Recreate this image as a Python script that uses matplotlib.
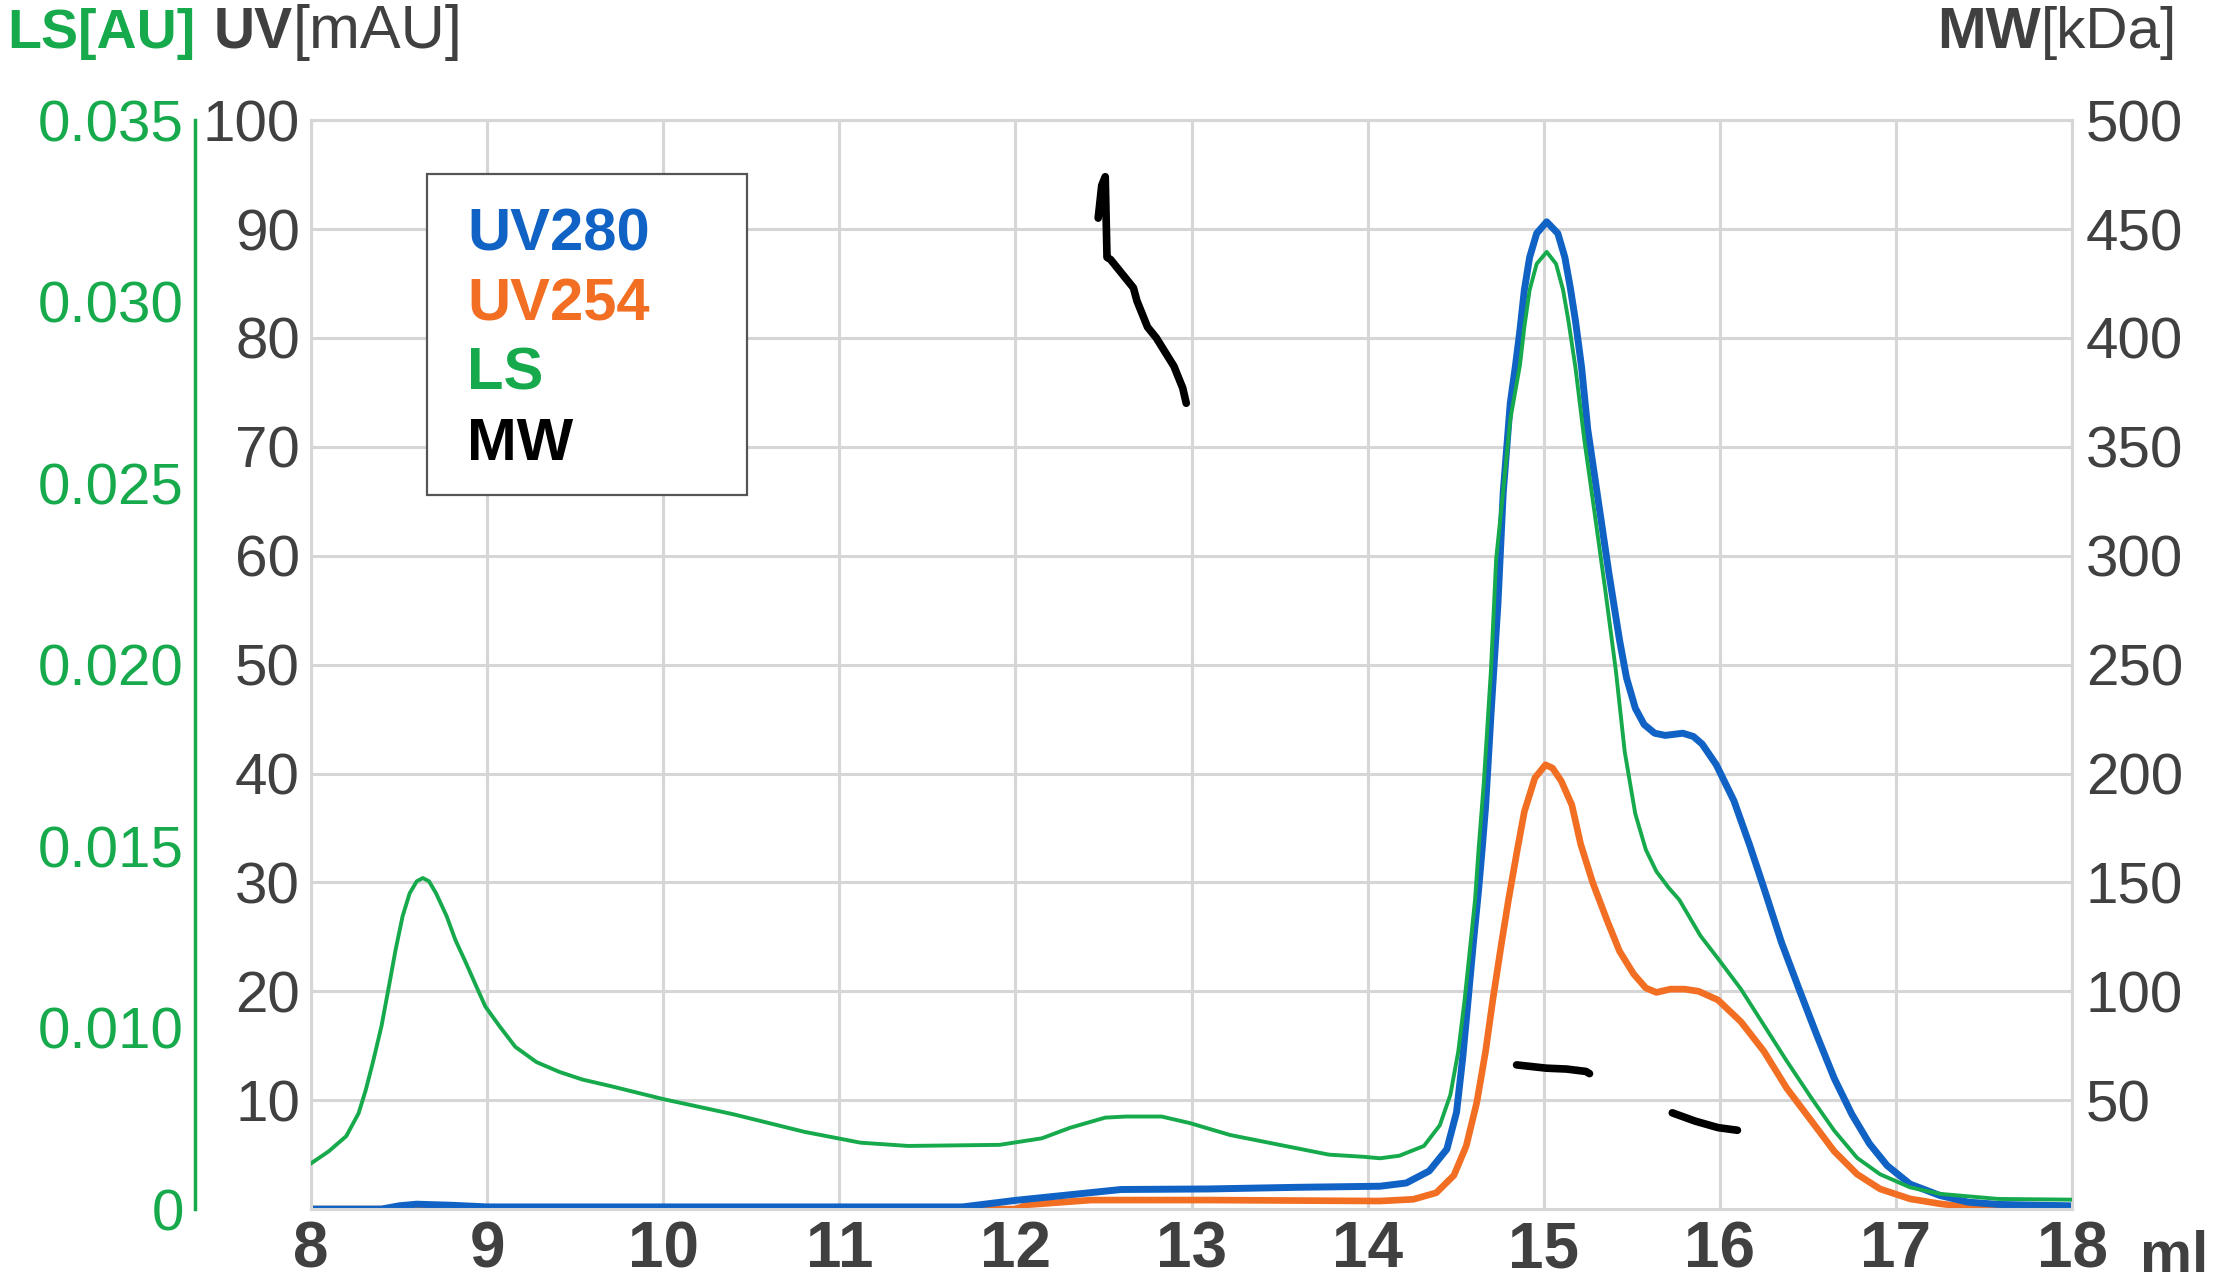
"""
SEC-MALS style chromatogram: UV280 / UV254 / LS traces with MW segments.
Writes out.png (about 2217 x 1286 px).
"""

import matplotlib
matplotlib.use("Agg")
import matplotlib.pyplot as plt
from matplotlib.patches import Rectangle

# ── data ──────────────────────────────────────────────────────────────────────
vol_uv280 = [8.0, 8.4, 8.5, 8.6, 8.8, 9.0, 11.7, 12.0, 12.3, 12.6, 13.1, 13.6,
             14.07, 14.22, 14.35, 14.45, 14.505, 14.54, 14.57, 14.60, 14.63, 14.65,
             14.67, 14.70, 14.74, 14.77, 14.81, 14.84, 14.865, 14.89, 14.92, 14.96,
             15.017, 15.08, 15.12, 15.15, 15.18, 15.215, 15.25, 15.31, 15.37, 15.43,
             15.47, 15.52, 15.57, 15.63, 15.69, 15.79, 15.85, 15.90, 15.98, 16.08,
             16.17, 16.25, 16.35, 16.45, 16.55, 16.65, 16.75, 16.85, 16.95, 17.08,
             17.25, 17.41, 17.58, 18.0]
uv280 = [0.0, 0.0, 0.3, 0.45, 0.35, 0.2, 0.2, 0.8, 1.3, 1.8, 1.85, 2.0,
         2.1, 2.4, 3.5, 5.5, 8.9, 13.9, 19.1, 24.4, 29.3, 33.0,
         37.0, 45.3, 55.6, 65.8, 74.0, 77.5, 80.7, 84.4, 87.4, 89.6,
         90.66, 89.6, 87.4, 84.7, 81.6, 77.3, 71.6, 65.0, 58.4, 52.3,
         48.8, 46.0, 44.5, 43.7, 43.5, 43.7, 43.4, 42.7, 40.8, 37.5,
         33.4, 29.5, 24.5, 20.2, 16.0, 12.0, 8.7, 6.0, 4.0, 2.3,
         1.25, 0.64, 0.43, 0.3]

vol_uv254 = [8.0, 8.5, 8.6, 8.7, 12.0, 12.07, 12.43, 13.1, 14.07, 14.26, 14.39,
             14.49, 14.56, 14.62, 14.67, 14.71, 14.76, 14.80, 14.85, 14.89, 14.95,
             15.01, 15.05, 15.10, 15.16, 15.21, 15.28, 15.36, 15.43, 15.51, 15.58,
             15.64, 15.72, 15.80, 15.88, 15.99, 16.12, 16.25, 16.38, 16.52, 16.65,
             16.78, 16.91, 17.08, 17.25, 17.41, 17.58, 18.0]
uv254 = [0.0, 0.0, 0.3, 0.0, 0.0, 0.4, 0.83, 0.83, 0.74, 0.9, 1.5,
         3.1, 5.8, 9.8, 14.5, 19.1, 24.4, 28.4, 33.0, 36.5, 39.6,
         40.8, 40.5, 39.3, 37.1, 33.5, 29.9, 26.5, 23.7, 21.6, 20.3,
         19.9, 20.2, 20.2, 20.0, 19.2, 17.2, 14.5, 11.1, 8.1, 5.3,
         3.2, 1.85, 0.94, 0.49, 0.18, 0.03, 0.0]

vol_ls = [8.0, 8.10, 8.20, 8.27, 8.31, 8.35, 8.40, 8.445, 8.48, 8.52, 8.56,
          8.60, 8.635, 8.67, 8.71, 8.77, 8.82, 8.88, 8.94, 8.99, 9.07,
          9.16, 9.28, 9.41, 9.54, 9.70, 10.0, 10.40, 10.80, 11.12, 11.39,
          11.91, 12.15, 12.31, 12.51, 12.63, 12.83, 12.99, 13.22, 13.50, 13.78,
          13.98, 14.07, 14.18, 14.32, 14.41, 14.47, 14.515, 14.55, 14.58, 14.61,
          14.63, 14.66, 14.70, 14.73, 14.77, 14.81, 14.865, 14.89, 14.92, 14.96,
          15.017, 15.07, 15.11, 15.14, 15.18, 15.23, 15.29, 15.35, 15.41, 15.46,
          15.52, 15.58, 15.64, 15.71, 15.77, 15.89, 15.99, 16.12, 16.25, 16.38,
          16.52, 16.65, 16.78, 16.91, 17.08, 17.25, 17.58, 18.0]
ls_au = [0.00626, 0.00659, 0.00701, 0.00764, 0.00827, 0.00902, 0.01004, 0.01121,
         0.01214, 0.01307, 0.01370, 0.01403, 0.01412, 0.01403, 0.01370, 0.01307,
         0.01241, 0.01178, 0.01112, 0.01058, 0.01004, 0.00947, 0.00905, 0.00878,
         0.00857, 0.00839, 0.00803, 0.00761, 0.00713, 0.00683, 0.00674, 0.00677,
         0.00695, 0.00724, 0.00752, 0.00755, 0.00755, 0.00737, 0.00704, 0.00677,
         0.00650, 0.00644, 0.00640, 0.00647, 0.00674, 0.00731, 0.00815, 0.00935,
         0.01073, 0.01211, 0.01352, 0.01490, 0.01676, 0.01982, 0.02291, 0.02480,
         0.02675, 0.02825, 0.02930, 0.03032, 0.03104, 0.03137, 0.03104, 0.03032,
         0.02948, 0.02819, 0.02621, 0.02414, 0.02204, 0.01982, 0.01760, 0.01589,
         0.01490, 0.01430, 0.01385, 0.01352, 0.01253, 0.01190, 0.01106, 0.01007,
         0.00908, 0.00806, 0.00716, 0.00641, 0.00596, 0.00560, 0.00542, 0.00528,
         0.00526]

# molar mass only where it was calculated (three short pieces)
mw_vol_1 = [12.47, 12.49, 12.51, 12.52, 12.54, 12.59, 12.67, 12.69, 12.75, 12.80, 12.90, 12.95, 12.97]
mw_kda_1 = [455, 470, 474, 437, 436, 431, 423, 417, 405, 400, 387, 377, 370]
mw_vol_2 = [14.846, 15.016, 15.13, 15.24, 15.26]
mw_kda_2 = [66.2, 64.7, 64.3, 63.2, 62.2]
mw_vol_3 = [15.73, 15.86, 15.99, 16.10]
mw_kda_3 = [44.2, 40.4, 37.4, 36.2]

x_ticks = [8, 9, 10, 11, 12, 13, 14, 15, 16, 17, 18]
uv_ticks = [10, 20, 30, 40, 50, 60, 70, 80, 90, 100]
ls_ticks = [0.005, 0.010, 0.015, 0.020, 0.025, 0.030, 0.035]
ls_tick_labels = ["0", "0.010", "0.015", "0.020", "0.025", "0.030", "0.035"]
mw_ticks = [50, 100, 150, 200, 250, 300, 350, 400, 450, 500]

legend_labels = ["UV280", "UV254", "LS", "MW"]

# ── style ─────────────────────────────────────────────────────────────────────
BLUE   = "#1062C4"
ORANGE = "#F26E22"
GREEN  = "#16AA4C"
BLACK  = "#000000"
DARK   = "#404040"
GRID   = "#D6D6D6"
SANS   = "Liberation Sans"

fig = plt.figure(figsize=(22.17, 12.86), dpi=100)
ax = fig.add_axes([0.1403, 0.0598, 0.7943, 0.8468])

ax.set_xlim(8, 18)
ax.set_ylim(0, 100)
ax.set_xticks(x_ticks, labels=[str(t) for t in x_ticks])
ax.set_yticks(uv_ticks, labels=[str(t) for t in uv_ticks])
ax.tick_params(length=0, labelfontfamily=SANS, labelcolor=DARK)
ax.tick_params(axis="x", pad=8, labelsize=46)
ax.tick_params(axis="y", pad=8, labelsize=42)
for lab in ax.get_xticklabels():
    lab.set_fontweight("bold")
ax.grid(True, color=GRID, linewidth=2.2)
ax.set_axisbelow(True)
for s in ax.spines.values():
    s.set_color(GRID)
    s.set_linewidth(2.2)

ax.plot(vol_uv254, uv254, color=ORANGE, linewidth=4.8, solid_joinstyle="round")
ax.plot(vol_uv280, uv280, color=BLUE, linewidth=5.0, solid_joinstyle="round")

# LS on its own scale, spine pushed out to the left
ax_ls = ax.twinx()
ax_ls.set_ylim(0.005, 0.035)
ax_ls.yaxis.set_ticks_position("left")
ax_ls.yaxis.set_label_position("left")
ax_ls.set_yticks(ls_ticks, labels=ls_tick_labels)
ax_ls.tick_params(length=0, pad=8, labelsize=42, labelcolor=GREEN,
                  labelfontfamily=SANS)
for name, s in ax_ls.spines.items():
    s.set_visible(name == "left")
ax_ls.spines["left"].set_position(("axes", -0.066))
ax_ls.spines["left"].set_color(GREEN)
ax_ls.spines["left"].set_linewidth(2.5)
ax_ls.plot(vol_ls, ls_au, color=GREEN, linewidth=2.8, solid_joinstyle="round")

# MW on the right
ax_mw = ax.twinx()
ax_mw.set_ylim(0, 500)
ax_mw.set_yticks(mw_ticks, labels=[str(t) for t in mw_ticks])
ax_mw.tick_params(length=0, pad=10, labelsize=42, labelcolor=DARK,
                  labelfontfamily=SANS)
for s in ax_mw.spines.values():
    s.set_visible(False)
for xs, ys in [(mw_vol_1, mw_kda_1), (mw_vol_2, mw_kda_2), (mw_vol_3, mw_kda_3)]:
    ax_mw.plot(xs, ys, color=BLACK, linewidth=5.5, solid_capstyle="round",
               solid_joinstyle="round")

# legend box, drawn by hand (text only, no handles)
ax_mw.add_patch(Rectangle((0.0659, 0.6556), 0.1817, 0.2948, transform=ax.transAxes,
                          facecolor="white", edgecolor="#555555", linewidth=1.6,
                          zorder=5))
leg_colors = [BLUE, ORANGE, GREEN, BLACK]
leg_y = [0.8806, 0.8163, 0.7530, 0.6878]
for lab, col, yy in zip(legend_labels, leg_colors, leg_y):
    ax_mw.text(0.0886, yy, lab, transform=ax.transAxes, color=col,
               fontfamily=SANS, fontweight="bold", fontsize=43,
               va="baseline", ha="left", zorder=6)

# axis titles along the top
TOP_Y = 0.9627
fig.text(0.0032, TOP_Y, "LS[AU]", color=GREEN, fontfamily=SANS,
         fontweight="bold", fontsize=40, va="baseline", ha="left")
uv_t = fig.text(0.0965, TOP_Y, "UV", color=DARK, fontfamily=SANS,
                fontweight="bold", fontsize=41, va="baseline", ha="left")
mau_t = fig.text(0.0965, TOP_Y, "[mAU]", color=DARK, fontfamily=SANS,
                 fontsize=44, va="baseline", ha="left")
kda_t = fig.text(0.982, TOP_Y, "[kDa]", color=DARK, fontfamily=SANS,
                 fontsize=42, va="baseline", ha="right")
mw_t = fig.text(0.982, TOP_Y, "MW", color=DARK, fontfamily=SANS,
                fontweight="bold", fontsize=42, va="baseline", ha="right")

# x unit
fig.text(0.9653, 0.0109, "ml", color=DARK, fontfamily=SANS, fontweight="bold",
         fontsize=42, va="baseline", ha="left")

# line up the mixed bold/regular titles
fig.canvas.draw()
r = fig.canvas.get_renderer()
mau_t.set_position((uv_t.get_window_extent(r).x1 / fig.bbox.width, TOP_Y))
mw_t.set_position((kda_t.get_window_extent(r).x0 / fig.bbox.width, TOP_Y))

fig.savefig("out.png", dpi=100)
print("saved out.png")
